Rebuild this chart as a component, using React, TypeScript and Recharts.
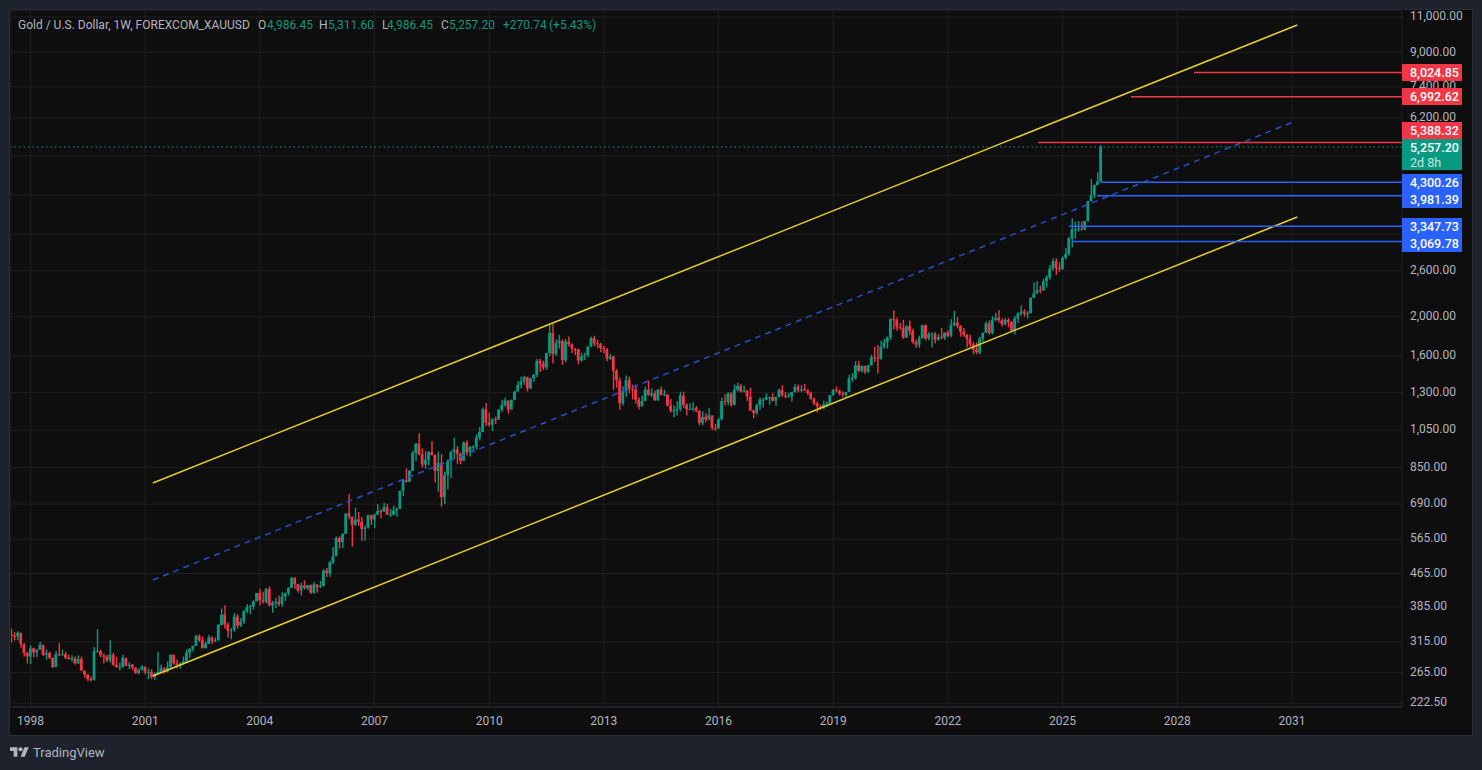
import React from "react";
import {
  ComposedChart,
  Bar,
  XAxis,
  YAxis,
  CartesianGrid,
  ReferenceLine,
} from "recharts";

const GREEN = "#089981";
const RED = "#f23645";
const BLUE = "#2962ff";
const YELLOW = "#e6cf2a";
const TEXT = "#b2b5be";
const FONT = "Roboto, sans-serif";

// monthly bars, first one is Jul 1997
const firstBarYear = 1997.5;
const firstOpen = 330;

const closes = [
  326, 325, 332, 311, 296, 290,
  304, 297, 301, 310, 293, 296, 288, 273, 294, 293, 294, 288,
  286, 287, 279, 286, 268, 262, 255, 254, 299, 299, 292, 290,
  284, 293, 277, 273, 274, 288, 275, 277, 272, 264, 269, 274,
  265, 266, 258, 263, 266, 271, 266, 273, 293, 279, 275, 278,
  282, 297, 303, 308, 326, 318, 304, 312, 323, 317, 318, 347,
  368, 348, 336, 337, 364, 346, 354, 375, 384, 386, 397, 416,
  399, 396, 426, 388, 394, 396, 391, 408, 416, 428, 453, 438,
  422, 435, 428, 435, 417, 437, 430, 433, 473, 466, 495, 513,
  569, 556, 582, 654, 643, 613, 632, 624, 599, 604, 648, 632,
  650, 664, 662, 678, 649, 650, 665, 672, 743, 790, 783, 834,
  923, 973, 916, 864, 887, 926, 911, 833, 872, 718, 815, 880,
  927, 942, 917, 883, 979, 926, 953, 955, 1008, 1040, 1182, 1096,
  1083, 1118, 1115, 1180, 1212, 1244, 1181, 1248, 1307, 1359, 1386, 1421,
  1332, 1411, 1439, 1556, 1536, 1502, 1628, 1826, 1620, 1723, 1746, 1563,
  1737, 1710, 1669, 1664, 1561, 1598, 1610, 1688, 1773, 1720, 1711, 1675,
  1663, 1578, 1596, 1472, 1393, 1224, 1313, 1396, 1327, 1323, 1250, 1202,
  1240, 1322, 1283, 1295, 1246, 1322, 1282, 1287, 1208, 1172, 1175, 1184,
  1279, 1213, 1183, 1184, 1190, 1172, 1095, 1133, 1115, 1142, 1065, 1060,
  1118, 1238, 1233, 1293, 1214, 1322, 1351, 1309, 1316, 1272, 1173, 1159,
  1211, 1249, 1249, 1268, 1268, 1242, 1269, 1322, 1280, 1270, 1274, 1303,
  1345, 1318, 1325, 1315, 1298, 1253, 1224, 1201, 1192, 1215, 1222, 1282,
  1321, 1313, 1292, 1283, 1305, 1409, 1413, 1520, 1472, 1513, 1464, 1517,
  1589, 1585, 1577, 1686, 1730, 1780, 1975, 1967, 1886, 1879, 1777, 1898,
  1847, 1734, 1708, 1769, 1907, 1771, 1814, 1814, 1757, 1783, 1775, 1829,
  1797, 1909, 1937, 1897, 1838, 1807, 1766, 1711, 1661, 1633, 1769, 1824,
  1928, 1826, 1969, 1990, 1962, 1919, 1965, 1940, 1849, 1983, 2036, 2062,
  2039, 2044, 2230, 2286, 2327, 2326, 2447, 2503, 2634, 2743, 2643, 2624,
  2798, 2858, 3124, 3288, 3289, 3303, 3290, 3447, 3858, 4002, 4230, 4320,
  5257.2,
];

const highs = [
  340, 333, 335, 332, 313, 298,
  309, 305, 303, 315, 310, 302, 298, 288, 299, 313, 301, 298,
  293, 292, 290, 292, 290, 266, 262, 259, 306, 339, 302, 295,
  293, 318, 296, 289, 280, 293, 288, 281, 278, 273, 271, 276,
  273, 271, 270, 265, 298, 277, 273, 282, 293, 293, 285, 281,
  290, 302, 304, 309, 328, 329, 325, 316, 328, 325, 323, 349,
  381, 388, 352, 341, 371, 369, 361, 378, 391, 389, 399, 416,
  426, 419, 428, 432, 398, 405, 410, 418, 417, 430, 456, 456,
  428, 441, 447, 436, 437, 444, 437, 446, 476, 480, 500, 540,
  574, 574, 585, 654, 730, 641, 676, 660, 641, 610, 650, 649,
  654, 690, 670, 695, 691, 672, 684, 675, 745, 795, 845, 838,
  934, 975, 1033, 947, 932, 934, 988, 916, 930, 917, 830, 890,
  935, 1006, 960, 925, 985, 990, 960, 965, 1025, 1070, 1195, 1226,
  1160, 1125, 1135, 1183, 1249, 1265, 1210, 1250, 1315, 1388, 1425, 1432,
  1424, 1412, 1447, 1575, 1577, 1560, 1632, 1912, 1921, 1760, 1804, 1760,
  1764, 1790, 1720, 1675, 1668, 1630, 1630, 1695, 1787, 1796, 1755, 1726,
  1695, 1675, 1617, 1605, 1488, 1416, 1348, 1434, 1424, 1361, 1361, 1267,
  1279, 1345, 1392, 1331, 1315, 1326, 1345, 1323, 1287, 1255, 1208, 1238,
  1307, 1307, 1223, 1224, 1232, 1205, 1176, 1170, 1156, 1191, 1142, 1089,
  1127, 1263, 1287, 1303, 1304, 1362, 1375, 1367, 1352, 1318, 1337, 1180,
  1220, 1264, 1262, 1295, 1270, 1296, 1270, 1330, 1357, 1306, 1299, 1306,
  1366, 1361, 1356, 1365, 1326, 1309, 1265, 1236, 1214, 1243, 1237, 1284,
  1326, 1347, 1324, 1310, 1306, 1439, 1452, 1555, 1557, 1518, 1516, 1525,
  1611, 1689, 1704, 1747, 1765, 1789, 1984, 2075, 1992, 1933, 1966, 1906,
  1959, 1872, 1755, 1798, 1912, 1917, 1834, 1832, 1834, 1814, 1877, 1831,
  1853, 1974, 2070, 1998, 1910, 1879, 1815, 1807, 1735, 1730, 1786, 1833,
  1949, 1960, 2009, 2048, 2079, 1983, 1987, 1987, 1953, 2009, 2052, 2135,
  2088, 2065, 2234, 2431, 2450, 2387, 2483, 2531, 2685, 2790, 2790, 2726,
  2817, 2956, 3149, 3500, 3435, 3451, 3439, 3454, 3872, 4380, 4245, 4550,
  5311.6,
];

const lows = [
  314, 318, 318, 305, 290, 279,
  278, 289, 289, 301, 291, 285, 286, 272, 275, 291, 291, 286,
  285, 282, 277, 278, 267, 257, 252, 252, 253, 297, 289, 279,
  281, 280, 275, 272, 268, 272, 275, 270, 269, 263, 262, 268,
  262, 255, 255, 254, 263, 264, 263, 265, 271, 277, 271, 271,
  277, 282, 288, 298, 308, 315, 304, 304, 312, 311, 315, 318,
  346, 340, 323, 320, 334, 340, 343, 349, 371, 369, 379, 397,
  388, 392, 392, 386, 372, 382, 386, 385, 398, 410, 429, 426,
  417, 410, 424, 423, 414, 414, 417, 428, 432, 456, 456, 490,
  514, 536, 537, 583, 633, 542, 610, 610, 560, 560, 600, 613,
  602, 648, 636, 660, 650, 642, 647, 642, 670, 723, 780, 782,
  833, 880, 910, 850, 844, 860, 910, 780, 740, 680, 690, 750,
  800, 890, 866, 865, 880, 910, 904, 930, 940, 990, 1040, 1075,
  1071, 1045, 1088, 1114, 1165, 1200, 1155, 1180, 1245, 1315, 1330, 1360,
  1309, 1330, 1382, 1420, 1462, 1478, 1480, 1600, 1535, 1600, 1670, 1522,
  1545, 1690, 1627, 1610, 1527, 1550, 1565, 1590, 1690, 1692, 1672, 1636,
  1626, 1555, 1565, 1321, 1338, 1180, 1208, 1270, 1295, 1251, 1221, 1182,
  1221, 1238, 1277, 1268, 1240, 1240, 1281, 1273, 1204, 1160, 1131, 1142,
  1167, 1192, 1142, 1179, 1170, 1162, 1077, 1080, 1097, 1111, 1052, 1046,
  1062, 1111, 1208, 1208, 1200, 1208, 1310, 1301, 1303, 1241, 1171, 1123,
  1146, 1180, 1195, 1245, 1214, 1237, 1205, 1265, 1271, 1260, 1265, 1236,
  1302, 1303, 1303, 1315, 1281, 1250, 1211, 1160, 1180, 1183, 1196, 1221,
  1276, 1302, 1280, 1266, 1266, 1310, 1382, 1400, 1459, 1458, 1445, 1454,
  1517, 1548, 1451, 1568, 1670, 1671, 1757, 1863, 1848, 1860, 1765, 1775,
  1802, 1717, 1677, 1678, 1770, 1750, 1750, 1682, 1721, 1746, 1759, 1753,
  1780, 1781, 1895, 1872, 1787, 1785, 1681, 1688, 1615, 1617, 1616, 1729,
  1824, 1805, 1810, 1950, 1936, 1893, 1903, 1884, 1848, 1810, 1932, 2015,
  2001, 1984, 2039, 2228, 2277, 2286, 2319, 2364, 2471, 2603, 2537, 2583,
  2615, 2772, 2832, 2970, 3120, 3246, 3268, 3268, 3437, 3886, 3930, 4270,
  4320,
];

const priceTicks = [222.5, 265, 315, 385, 465, 565, 690, 850, 1050, 1300, 1600, 2000, 2600, 3200, 4000, 5000, 6200, 7400, 9000, 11000];
// grid lines only, the price tags sit on top of these labels
const unlabelledTicks = [3200, 4000, 5000];
const yearTicks = [1998, 2001, 2004, 2007, 2010, 2013, 2016, 2019, 2022, 2025, 2028, 2031];
const priceDomain = [217.7, 11382];
const yearDomain = [1997.49, 2033.88];

const upperChannelYears = [2001.2, 2031.14];
const upperChannelPrices = [777.6, 10511];
const midChannelYears = [2001.2, 2031.03];
const midChannelPrices = [448, 6055];
const lowerChannelYears = [2001.2, 2031.14];
const lowerChannelPrices = [259.7, 3529];

const targetPrices = [8024.85, 6992.62, 5388.32];
const targetStarts = [2028.44, 2026.79, 2024.36];
const supportPrices = [4300.26, 3981.39, 3347.73, 3069.78];
const supportStarts = [2025.98, 2025.9, 2025.17, 2025.25];
const lastPrice = 5257.2;

const candles = closes.map((close, i) => {
  const open = i === 0 ? firstOpen : closes[i - 1];
  return {
    t: firstBarYear + i / 12,
    wick: [lows[i], highs[i]],
    body: [Math.min(open, close), Math.max(open, close)],
    up: close >= open,
  };
});

const fmt = (v: number) =>
  v.toLocaleString("en-US", { minimumFractionDigits: 2, maximumFractionDigits: 2 });

const CandlePart = (props: any) => {
  const { x, y, width, height, payload } = props;
  return (
    <rect x={x} y={y} width={width} height={Math.max(height, 1)} fill={payload.up ? GREEN : RED} />
  );
};

function PriceTag({ top, bg, value }: { top: number; bg: string; value: number }) {
  return (
    <div
      style={{
        position: "absolute",
        left: 1402,
        top,
        width: 60,
        height: 17,
        background: bg,
        color: "#fff",
        fontSize: 12.5,
        fontWeight: 500,
        lineHeight: "17px",
        paddingLeft: 8,
        boxSizing: "border-box",
      }}
    >
      {fmt(value)}
    </div>
  );
}

function Legend() {
  const items: [number, string, string][] = [
    [18, "Gold / U.S. Dollar, 1W, FOREXCOM_XAUUSD", TEXT],
    [258, "O", TEXT],
    [267, "4,986.45", GREEN],
    [319, "H", TEXT],
    [328, "5,311.60", GREEN],
    [382, "L", TEXT],
    [387, "4,986.45", GREEN],
    [441, "C", TEXT],
    [449, "5,257.20", GREEN],
    [503, "+270.74", GREEN],
    [549, "(+5.43%)", GREEN],
  ];
  return (
    <>
      {items.map(([left, label, color]) => (
        <span
          key={left}
          style={{ position: "absolute", left, top: 18, fontSize: 12, lineHeight: "14px", color, whiteSpace: "nowrap" }}
        >
          {label}
        </span>
      ))}
    </>
  );
}

export default function App() {
  return (
    <div
      style={{
        position: "absolute",
        left: 0,
        top: 0,
        width: 1482,
        height: 770,
        background: "#1e222d",
        fontFamily: FONT,
        overflow: "hidden",
      }}
    >
      <div
        style={{
          position: "absolute",
          left: 10,
          top: 10,
          width: 1462,
          height: 725,
          background: "#0e0e0e",
          outline: "1px solid #2a2e39",
        }}
      />
      <ComposedChart
        width={1482}
        height={770}
        data={candles}
        margin={{ top: 11, right: 10, bottom: 35, left: 11 }}
        style={{ position: "absolute", left: 0, top: 0 }}
      >
        <CartesianGrid stroke="#1f1f1f" />
        <XAxis
          dataKey="t"
          type="number"
          domain={yearDomain}
          ticks={yearTicks}
          allowDataOverflow
          height={28}
          interval={0}
          tickSize={0}
          tickMargin={9}
          tick={{ fill: TEXT, fontSize: 12, fontFamily: FONT }}
          axisLine={{ stroke: "#2a2e39" }}
        />
        <XAxis xAxisId="body" dataKey="t" type="number" domain={yearDomain} allowDataOverflow hide />
        <YAxis
          orientation="right"
          scale="log"
          domain={priceDomain}
          ticks={priceTicks}
          allowDataOverflow
          width={70}
          interval={0}
          tickSize={0}
          tickMargin={8}
          tickFormatter={(v: number) => (unlabelledTicks.includes(v) ? "" : fmt(v))}
          textAnchor="start"
          tick={{ fill: TEXT, fontSize: 12, fontFamily: FONT, dy: -1 }}
          axisLine={false}
        />
        <Bar dataKey="wick" barSize={1.4} isAnimationActive={false} shape={CandlePart} />
        <Bar dataKey="body" xAxisId="body" barSize={2.8} isAnimationActive={false} shape={CandlePart} />
        <ReferenceLine
          segment={[
            { x: upperChannelYears[0], y: upperChannelPrices[0] },
            { x: upperChannelYears[1], y: upperChannelPrices[1] },
          ]}
          stroke={YELLOW}
          strokeWidth={1.5}
        />
        <ReferenceLine
          segment={[
            { x: lowerChannelYears[0], y: lowerChannelPrices[0] },
            { x: lowerChannelYears[1], y: lowerChannelPrices[1] },
          ]}
          stroke={YELLOW}
          strokeWidth={1.5}
        />
        <ReferenceLine
          segment={[
            { x: midChannelYears[0], y: midChannelPrices[0] },
            { x: midChannelYears[1], y: midChannelPrices[1] },
          ]}
          stroke="#2451c8"
          strokeWidth={1.5}
          strokeDasharray="6 5"
        />
        <ReferenceLine y={lastPrice} stroke={GREEN} strokeDasharray="1.5 3" />
        {targetPrices.map((p, i) => (
          <ReferenceLine
            key={p}
            segment={[
              { x: targetStarts[i], y: p },
              { x: yearDomain[1], y: p },
            ]}
            stroke={RED}
            strokeWidth={1.4}
          />
        ))}
        {supportPrices.map((p, i) => (
          <ReferenceLine
            key={p}
            segment={[
              { x: supportStarts[i], y: p },
              { x: yearDomain[1], y: p },
            ]}
            stroke={BLUE}
            strokeWidth={1.4}
          />
        ))}
      </ComposedChart>

      <Legend />

      <PriceTag top={64} bg={RED} value={targetPrices[0]} />
      <PriceTag top={88} bg={RED} value={targetPrices[1]} />
      <PriceTag top={122} bg={RED} value={targetPrices[2]} />
      <div
        style={{
          position: "absolute",
          left: 1402,
          top: 139,
          width: 60,
          height: 31,
          background: GREEN,
          color: "#fff",
          fontSize: 12.5,
          fontWeight: 500,
          lineHeight: "15px",
          padding: "1px 0 0 8px",
          boxSizing: "border-box",
        }}
      >
        {fmt(lastPrice)}
        <div style={{ fontWeight: 400, color: "#c3e6df" }}>2d 8h</div>
      </div>
      <PriceTag top={174} bg={BLUE} value={supportPrices[0]} />
      <PriceTag top={191} bg={BLUE} value={supportPrices[1]} />
      <PriceTag top={218} bg={BLUE} value={supportPrices[2]} />
      <PriceTag top={235} bg={BLUE} value={supportPrices[3]} />

      <svg
        width={19}
        height={15}
        viewBox="0 0 36 28"
        style={{ position: "absolute", left: 10, top: 745 }}
      >
        <path d="M14 22H7V11H0V4h14v18zM28 22h-8l7.5-18h8L28 22z" fill={TEXT} />
        <circle cx={20} cy={8} r={4} fill={TEXT} />
      </svg>
      <span
        style={{ position: "absolute", left: 33, top: 745, fontSize: 13, lineHeight: "16px", color: TEXT }}
      >
        TradingView
      </span>
    </div>
  );
}
